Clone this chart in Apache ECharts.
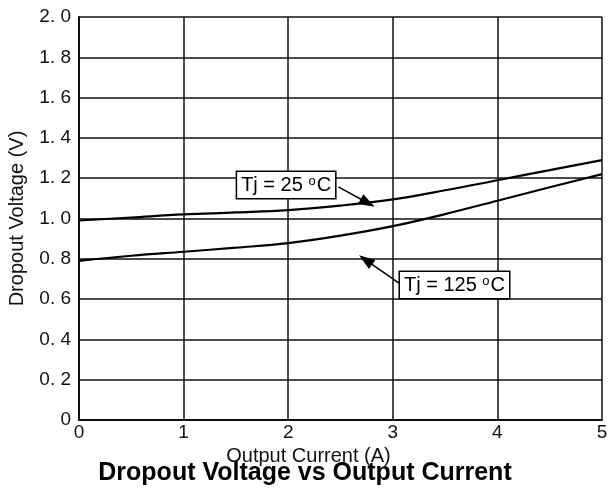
<!DOCTYPE html>
<html>
<head>
<meta charset="utf-8">
<script src="https://cdn.jsdelivr.net/npm/echarts@6/dist/echarts.min.js"></script>
<style>
  html, body { margin: 0; padding: 0; background: #fff; }
  #main { width: 610px; height: 490px; }
</style>
</head>
<body>
<div id="main"></div>
<script>
// output current (A)
const current = [0, 0.5, 1, 1.5, 2, 2.5, 3, 3.5, 4, 4.5, 5]
// dropout voltage (V) at Tj = 25 C
const vTj25 = [0.99, 1.005, 1.02, 1.03, 1.042, 1.064, 1.095, 1.14, 1.19, 1.24, 1.29]
// dropout voltage (V) at Tj = 125 C
const vTj125 = [0.79, 0.815, 0.835, 0.855, 0.878, 0.915, 0.962, 1.022, 1.088, 1.155, 1.22]

// annotation anchors in data units: [label centre, arrow start, arrow tip]
const note25 = [[1.98, 1.166], [2.48, 1.157], [2.76, 1.077]]
const note125 = [[3.59, 0.67], [3.07, 0.675], [2.74, 0.795]]

const font = 'Liberation Sans, Arial, sans-serif'

function pairs(xs, ys) {
  return xs.map((x, i) => [x, ys[i]])
}

function note(anchor, temp) {
  return {
    markPoint: {
      silent: true,
      symbol: 'rect',
      symbolSize: 1,
      itemStyle: { color: 'rgba(0,0,0,0)' },
      label: {
        show: true,
        position: 'inside',
        formatter: 'Tj = ' + temp + ' {sup|o}C',
        color: '#000',
        fontFamily: font,
        fontSize: 20,
        backgroundColor: '#fff',
        borderColor: '#000',
        borderWidth: 1.5,
        padding: [3, 4, 2, 4],
        rich: {
          sup: { fontSize: 13, verticalAlign: 'top', padding: [0, 1, 8, 0], fontFamily: font, color: '#000' }
        }
      },
      data: [{ coord: anchor[0] }]
    },
    markLine: {
      silent: true,
      animation: false,
      symbol: ['none', 'triangle'],
      symbolSize: [11, 16],
      label: { show: false },
      lineStyle: { color: '#000', width: 1.5, type: 'solid' },
      data: [[{ coord: anchor[1] }, { coord: anchor[2] }]]
    }
  }
}

const chart = echarts.init(document.getElementById('main'))

chart.setOption({
  animation: false,
  textStyle: { fontFamily: font },
  title: {
    text: 'Dropout Voltage vs Output Current',
    left: 'center',
    top: 456,
    textStyle: { fontFamily: font, fontSize: 25, fontWeight: 'bold', color: '#000' }
  },
  grid: { left: 79, right: 8, top: 17, bottom: 70, outerBoundsMode: 'none', containLabel: false },
  xAxis: {
    type: 'value',
    min: 0,
    max: 5,
    interval: 1,
    name: 'Output Current (A)',
    nameLocation: 'middle',
    nameGap: 17,
    nameTextStyle: { fontFamily: font, fontSize: 20, color: '#111', padding: [0, 64, 0, 0] },
    axisLine: { lineStyle: { color: '#111', width: 2 } },
    axisTick: { show: false },
    axisLabel: { fontSize: 19, color: '#111', margin: 3 },
    splitLine: { lineStyle: { color: '#111', width: 1.5 } }
  },
  yAxis: {
    type: 'value',
    min: 0,
    max: 2,
    interval: 0.2,
    name: 'Dropout Voltage (V)',
    nameLocation: 'middle',
    nameGap: 52,
    nameTextStyle: { fontFamily: font, fontSize: 20, color: '#111' },
    axisLine: { show: true, lineStyle: { color: '#111', width: 2 } },
    axisTick: { show: false },
    axisLabel: {
      fontSize: 19,
      color: '#111',
      margin: 8,
      formatter: v => (v === 0 ? '0' : v.toFixed(1).replace('.', '. '))
    },
    splitLine: { lineStyle: { color: '#111', width: 1.5 } }
  },
  series: [
    Object.assign({
      name: 'Tj = 25 C',
      type: 'line',
      smooth: 0.4,
      symbol: 'none',
      lineStyle: { color: '#000', width: 2.2 },
      data: pairs(current, vTj25)
    }, note(note25, '25')),
    Object.assign({
      name: 'Tj = 125 C',
      type: 'line',
      smooth: 0.4,
      symbol: 'none',
      lineStyle: { color: '#000', width: 2.2 },
      data: pairs(current, vTj125)
    }, note(note125, '125'))
  ]
})
</script>
</body>
</html>
